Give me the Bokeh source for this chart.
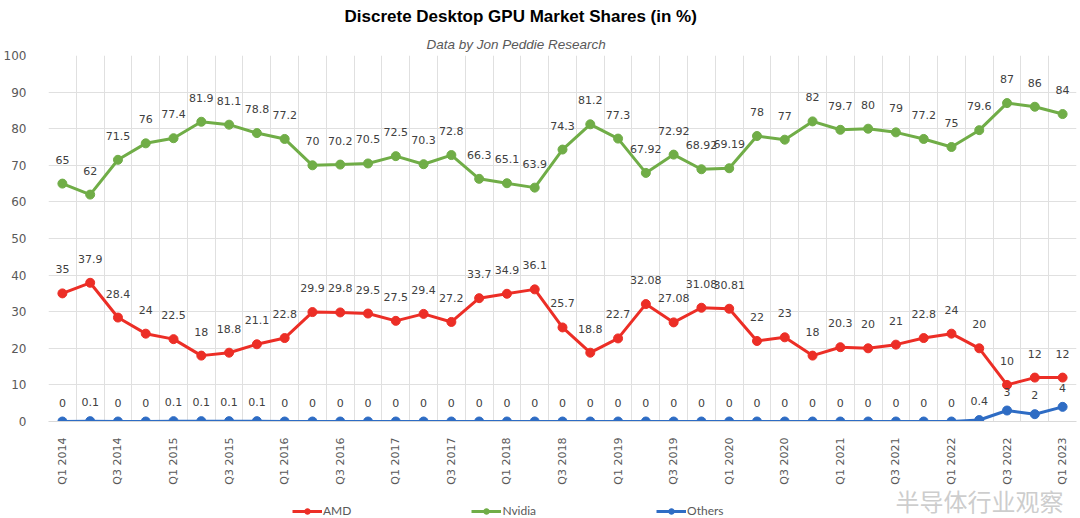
import math
from bokeh.plotting import figure
from bokeh.layouts import column
from bokeh.models import (Range1d, FixedTicker, SingleIntervalTicker, Title, Legend,
                          LegendItem, ColumnDataSource, Label)
from bokeh.core.properties import value
from bokeh.embed import file_html
from bokeh.resources import INLINE

quarters = [f"Q{q} {y}" for y in range(2014, 2024) for q in range(1, 5)][:37]

amd = [35, 37.9, 28.4, 24, 22.5, 18, 18.8, 21.1,
       22.8, 29.9, 29.8, 29.5, 27.5, 29.4, 27.2, 33.7,
       34.9, 36.1, 25.7, 18.8, 22.7, 32.08, 27.08, 31.08,
       30.81, 22, 23, 18, 20.3, 20, 21, 22.8,
       24, 20, 10, 12, 12]
nvidia = [65, 62, 71.5, 76, 77.4, 81.9, 81.1, 78.8,
          77.2, 70, 70.2, 70.5, 72.5, 70.3, 72.8, 66.3,
          65.1, 63.9, 74.3, 81.2, 77.3, 67.92, 72.92, 68.92,
          69.19, 78, 77, 82, 79.7, 80, 79, 77.2,
          75, 79.6, 87, 86, 84]
others = [0, 0.1, 0, 0, 0.1, 0.1, 0.1, 0.1,
          0, 0, 0, 0, 0, 0, 0, 0,
          0, 0, 0, 0, 0, 0, 0, 0,
          0, 0, 0, 0, 0, 0, 0, 0,
          0, 0.4, 3, 2, 4]

series = [("AMD", amd, "#EC2E26"), ("Nvidia", nvidia, "#70AD47"), ("Others", others, "#2E6CC4")]

x = list(range(len(quarters)))

p = figure(frame_width=1028, frame_height=366, output_backend="svg", toolbar_location=None,
           x_range=Range1d(-0.5, len(quarters) - 0.5), y_range=Range1d(0, 100),
           min_border_left=37, min_border_right=7, min_border_bottom=62, min_border_top=0)
p.outline_line_color = None
p.background_fill_color = "white"
p.border_fill_color = "white"

sub = Title(text="Data by Jon Peddie Research", align="left", offset=378,
            text_font="Liberation Sans", text_font_size="13.5px",
            text_font_style="italic", text_color="#595959", standoff=8)
main = Title(text="Discrete Desktop GPU Market Shares (in %)", align="left", offset=296,
             text_font="Liberation Sans", text_font_size="17px",
             text_font_style="bold", text_color="#000000", standoff=9)
p.add_layout(sub, "above")
p.add_layout(main, "above")

# axes
p.yaxis.ticker = SingleIntervalTicker(interval=10)
p.yaxis.axis_line_color = None
p.yaxis.major_tick_line_color = None
p.yaxis.minor_tick_line_color = None
p.yaxis.major_label_standoff = 16
p.yaxis.major_label_text_font = "DejaVu Sans"
p.yaxis.major_label_text_font_size = "12px"
p.yaxis.major_label_text_color = "#595959"

p.xaxis.ticker = FixedTicker(ticks=x[::2])
p.xaxis.major_label_overrides = {i: quarters[i] for i in x[::2]}
p.xaxis.major_label_orientation = math.pi / 2
p.xaxis.axis_line_color = "#d9d9d9"
p.xaxis.major_tick_line_color = None
p.xaxis.minor_tick_line_color = None
p.xaxis.major_label_standoff = 10
p.xaxis.major_label_text_font = "DejaVu Sans"
p.xaxis.major_label_text_font_size = "11px"
p.xaxis.major_label_text_color = "#595959"

p.xgrid.ticker = FixedTicker(ticks=[i - 0.5 for i in range(len(quarters) + 1)])
p.xgrid.grid_line_color = "#e0e0e0"
p.ygrid.grid_line_color = "#e0e0e0"

# legend strip: its y range lies above all data, so only the legend shows
lg = figure(width=1072, height=35, output_backend="svg", toolbar_location=None,
            x_range=Range1d(0, 1), y_range=Range1d(200, 201), min_border=0)
lg.axis.visible = False
lg.grid.visible = False
lg.outline_line_color = None

items = []
for name, vals, color in series:
    src = ColumnDataSource(dict(x=x, y=vals, t=[f"{v:g}" for v in vals]))
    p.line("x", "y", source=src, line_color=color, line_width=3)
    p.scatter("x", "y", source=src, size=9, fill_color=color, line_color=color)
    p.text("x", "y", text="t", source=src, y_offset=-24 if name != "Others" else -19,
           text_align="center", text_baseline="middle",
           text_font=value("DejaVu Sans"), text_font_size="11px", text_color="#404040")
    l1 = lg.line("x", "y", source=src, line_color=color, line_width=3)
    l2 = lg.scatter("x", "y", source=src, size=7, fill_color=color, line_color=color)
    items.append(LegendItem(label=name, renderers=[l1, l2]))

legend = Legend(items=items, orientation="horizontal", location=(244, 4),
                spacing=120, glyph_width=30, glyph_height=14, label_height=14,
                label_standoff=1, padding=0, margin=0,
                border_line_color=None, background_fill_alpha=0,
                label_text_font="Lato", label_text_font_size="12px",
                label_text_color="#595959")
lg.add_layout(legend)

# watermark
wm = Label(x=847, y=22, x_units="screen", y_units="screen", text="半导体行业观察",
           text_font="Noto Sans CJK SC", text_font_size="24px",
           text_color="#c4c4c4", text_alpha=0.85, text_baseline="middle")
lg.add_layout(wm)

layout = column(p, lg, spacing=0)
open("out.html", "w").write(file_html(layout, INLINE))
